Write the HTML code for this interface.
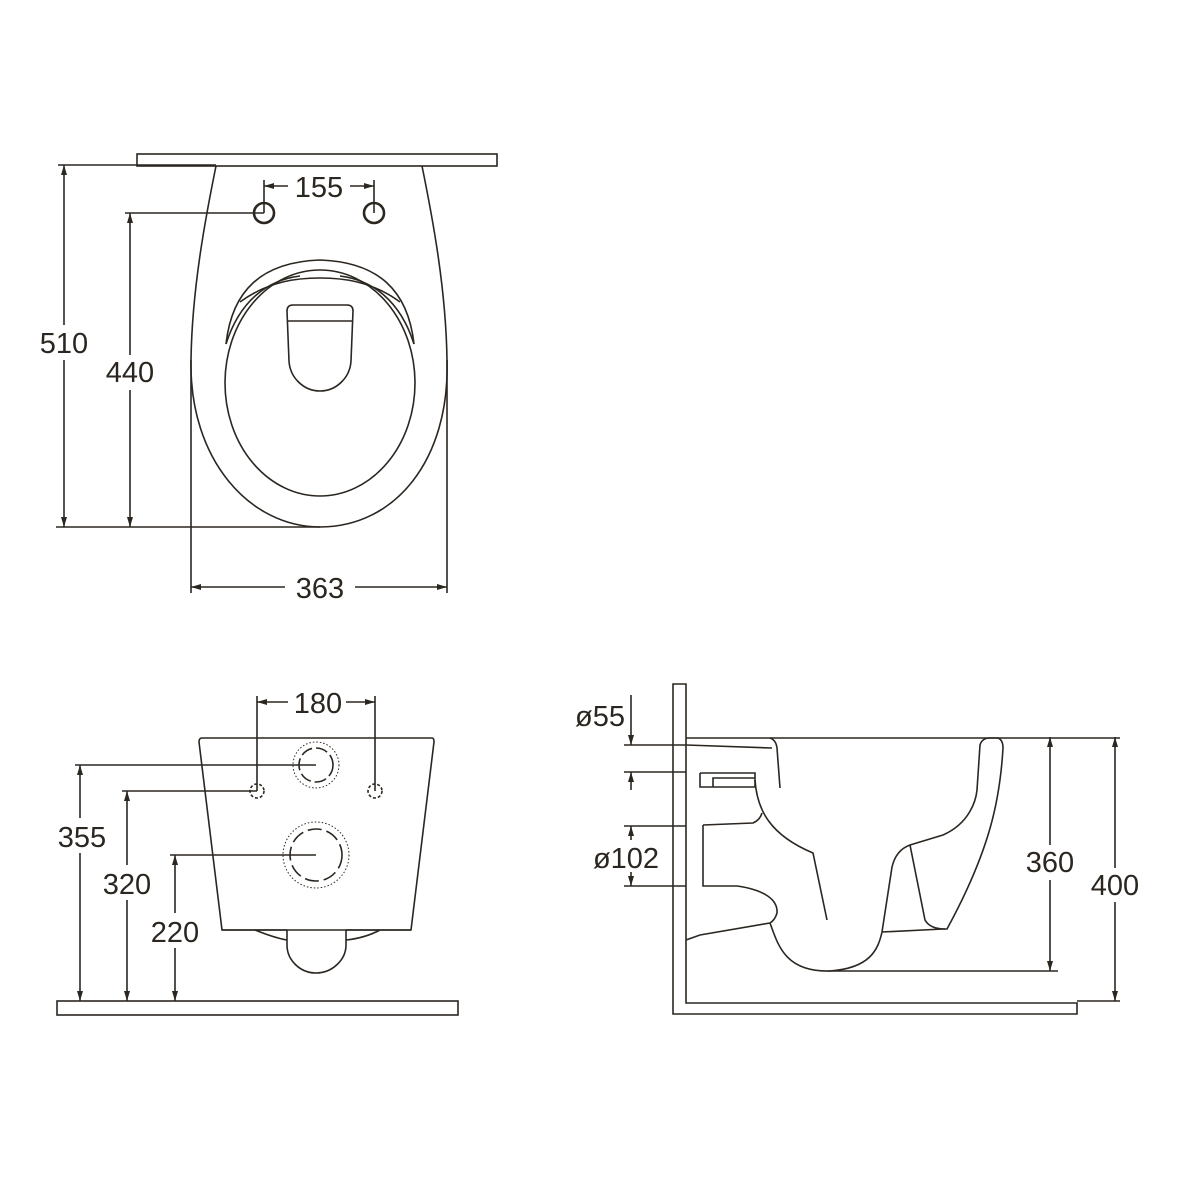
<!DOCTYPE html>
<html><head><style>body{margin:0;background:#fff}svg{display:block}text{font-family:"Liberation Sans",sans-serif;font-size:29px;fill:#2b2620}</style></head><body>
<svg width="1200" height="1200" viewBox="0 0 1200 1200" xmlns="http://www.w3.org/2000/svg">
<defs><marker id="a" viewBox="0 0 10 6" refX="10" refY="3" markerWidth="10" markerHeight="6" orient="auto-start-reverse" markerUnits="userSpaceOnUse"><path d="M0,0 L10,3 L0,6z" fill="#2b2620"/></marker></defs>
<g fill="none" stroke="#2b2620" stroke-width="1.6">
<!-- TOP VIEW -->
<rect x="137" y="154" width="360" height="12"/>
<path d="M216,166 C205,220 192,290 191,360 C189,460 250,527 320,527 C395,527 450,460 447,360 C446,290 433,220 422,166"/>
<ellipse cx="320" cy="383" rx="95" ry="113"/>
<path d="M226,344 C232,290 262,262 320,260 C378,262 408,290 414,344"/>
<path d="M226,344 C240,300 268,280 300,276 M414,344 C400,300 372,280 340,276 M240,302 C270,280 300,278 320,278 C340,278 370,280 400,302"/>
<path d="M287,311 Q287,305 293,305 L347,305 Q353,305 353,311 L351,361 C350,378 336,391 320,391 C304,391 290,378 289,361 Z M287,321 L352,321"/>
<circle cx="264" cy="213" r="10" stroke-width="2.6"/>
<circle cx="374" cy="213" r="10" stroke-width="2.6"/>
<path d="M264,180 L264,213 M374,180 L374,213"/>
<path d="M264,186 L288,186" marker-start="url(#a)"/>
<path d="M350,186 L374,186" marker-end="url(#a)"/>
<path d="M58,165 L216,165 M56,527 L320,527 M125,213 L264,213"/>
<path d="M64,165 L64,325" marker-start="url(#a)"/><path d="M64,360 L64,527" marker-end="url(#a)"/>
<path d="M130,213 L130,355" marker-start="url(#a)"/><path d="M130,390 L130,527" marker-end="url(#a)"/>
<path d="M191,360 L191,593 M447,360 L447,593"/>
<path d="M191,587 L288,587" marker-start="url(#a)"/><path d="M352,587 L447,587" marker-end="url(#a)"/>
<!-- FRONT VIEW -->
<rect x="57" y="1001" width="401" height="14"/>
<path d="M202,738 L432,738 Q434,738 434,742 L411,930 L222,930 L199,742 Q199,738 202,738Z"/>
<path d="M222,930 L287,930 M346,930 L411,930 M255,930 Q275,938 287,940 M346,940 Q365,938 380,930"/>
<path d="M287,930 L287,945 C287,960 300,973 316,973 C332,973 346,960 346,945 L346,930"/>
<circle cx="316" cy="765" r="23" stroke-dasharray="1.5 2" stroke-width="1"/>
<circle cx="316" cy="765" r="17" stroke-dasharray="12 4"/>
<circle cx="316" cy="855" r="33" stroke-dasharray="1.5 2" stroke-width="1"/>
<circle cx="316" cy="855" r="26" stroke-dasharray="14 5"/>
<circle cx="257" cy="791" r="7" stroke-dasharray="3 2"/>
<circle cx="375" cy="791" r="7" stroke-dasharray="3 2"/>
<path d="M257,696 L257,791 M375,696 L375,791"/>
<path d="M257,702 L288,702" marker-start="url(#a)"/><path d="M346,702 L375,702" marker-end="url(#a)"/>
<path d="M75,765 L316,765 M122,791 L257,791 M170,855 L316,855"/>
<path d="M80,765 L80,818" marker-start="url(#a)"/><path d="M80,853 L80,1001" marker-end="url(#a)"/>
<path d="M127,791 L127,865" marker-start="url(#a)"/><path d="M127,900 L127,1001" marker-end="url(#a)"/>
<path d="M175,855 L175,913" marker-start="url(#a)"/><path d="M175,948 L175,1001" marker-end="url(#a)"/>
<!-- SIDE VIEW -->
<path d="M673,684 L686,684 L686,1003 L1077,1003 L1077,1014 L673,1014 Z"/>
<path d="M686,738 L1120,738 M686,745 L772,748"/>
<path d="M770,738 Q776,740 777,748 L780,788"/>
<path d="M700,773 L755,773 L755,787 L713,787 L713,778 L755,778 M700,773 L700,787 L713,787"/>
<path d="M755,780 C757,810 770,835 813,853 L827,920"/>
<path d="M703,825 L753,823 Q760,820 762,813 M703,825 L703,886 L737,886 C765,890 778,900 777,913 Q775,920 770,923 L700,935 L686,940"/>
<path d="M770,923 C778,945 785,972 830,971"/>
<path d="M830,971 C870,968 878,950 882,932 L892,867 Q896,850 910,845 L943,835 C970,823 976,800 977,790 L980,745 Q982,738 990,738 L998,738 Q1003,740 1003,748 C1000,800 990,850 947,929 L943,929 L882,932"/>
<path d="M910,845 L925,920 Q930,929 945,929"/>
<path d="M828,971 L1058,971"/>
<path d="M1050,737 L1050,845" marker-start="url(#a)"/><path d="M1050,880 L1050,971" marker-end="url(#a)"/>
<path d="M1115,737 L1115,868" marker-start="url(#a)"/><path d="M1115,902 L1115,1001" marker-end="url(#a)"/>
<path d="M1077,1001 L1120,1001"/>
<path d="M624,745 L686,745 M624,772 L686,772 M624,826 L686,826 M624,886 L686,886"/>
<path d="M631,695 L631,745" marker-end="url(#a)"/><path d="M631,790 L631,772" marker-end="url(#a)"/>
<path d="M631,840 L631,826" marker-end="url(#a)"/><path d="M631,872 L631,886" marker-end="url(#a)"/>
</g>
<g fill="#fff"><rect x="40" y="326" width="50" height="34"/><rect x="100" y="355" width="58" height="34"/><rect x="285" y="571" width="70" height="34"/><rect x="55" y="820" width="55" height="33"/><rect x="100" y="867" width="55" height="33"/><rect x="148" y="915" width="55" height="33"/><rect x="1020" y="845" width="60" height="34"/><rect x="1087" y="868" width="58" height="34"/></g>
<text x="64" y="353" text-anchor="middle">510</text>
<text x="130" y="382" text-anchor="middle">440</text>
<text x="319" y="197" text-anchor="middle">155</text>
<text x="320" y="598" text-anchor="middle">363</text>
<text x="318" y="713" text-anchor="middle">180</text>
<text x="82" y="847" text-anchor="middle">355</text>
<text x="127" y="894" text-anchor="middle">320</text>
<text x="175" y="942" text-anchor="middle">220</text>
<text x="600" y="726" text-anchor="middle">ø55</text>
<text x="626" y="868" text-anchor="middle">ø102</text>
<text x="1050" y="872" text-anchor="middle">360</text>
<text x="1115" y="895" text-anchor="middle">400</text>
</svg>
</body></html>
